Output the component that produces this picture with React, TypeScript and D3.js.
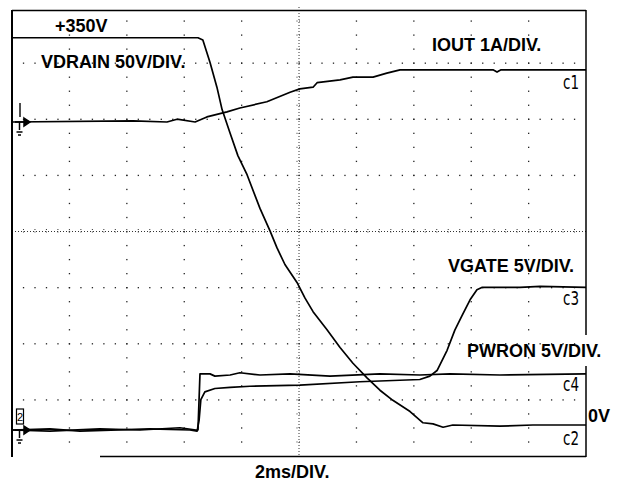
import React from "react";
import * as d3 from "d3";

// time in ms (2 ms/div), values in channel units
const vdrainT = [0, 6.48, 6.65, 6.9, 7.14, 7.32, 7.6, 7.87, 8.19, 8.64, 8.99, 9.23, 9.51, 9.93, 10.21, 10.49, 10.97, 11.43, 11.88, 12.37, 12.82, 13.27, 13.87, 14.32, 14.67, 15.02, 15.36, 17.0, 18.15, 20];
const vdrainV = [345, 345, 343, 323, 301, 281, 260, 240, 223, 193, 173, 158, 143, 127, 113, 101, 85, 69, 55, 42, 31, 22, 12, 2, 1, -2, 0, -1, 0, 0];

const ioutT = [0, 4.22, 5.4, 5.75, 6.38, 6.79, 7.49, 7.94, 8.88, 9.69, 10.03, 10.49, 10.63, 11.43, 11.88, 12.58, 13.06, 13.52, 16.76, 16.9, 17.04, 20];
const ioutA = [0, 0.02, 0, 0.05, 0, 0.09, 0.18, 0.25, 0.36, 0.53, 0.59, 0.62, 0.7, 0.75, 0.8, 0.8, 0.87, 0.93, 0.93, 0.89, 0.93, 0.93];

const vgateT = [0, 1.32, 2.37, 4.81, 6.2, 6.45, 6.52, 6.58, 6.72, 7.07, 7.6, 8.29, 10.03, 12.12, 14.21, 14.56, 14.81, 15.16, 15.43, 15.68, 15.96, 16.2, 16.37, 17.7, 18.4, 20];
const vgateV = [0, 0.1, -0.1, 0.1, 0, -0.1, 0.9, 2.7, 3.4, 3.7, 3.8, 3.9, 4.0, 4.3, 4.5, 4.8, 5.3, 7.1, 8.9, 10.2, 11.6, 12.5, 12.7, 12.7, 12.8, 12.7];

const pwronT = [0, 1.32, 3.06, 4.46, 5.85, 6.41, 6.48, 6.55, 6.9, 7.07, 7.6, 7.94, 8.64, 9.69, 11.08, 12.82, 14.21, 15.26, 17.0, 20];
const pwronV = [0, -0.1, 0.1, 0, 0.2, 0, 0, 5.0, 5.0, 4.8, 4.9, 5.1, 4.9, 5.0, 4.8, 5.0, 4.9, 5.0, 4.9, 5.0];

const channelNames = ["c1", "c2", "c3", "c4"];
const channelLabels = ["IOUT 1A/DIV.", "VDRAIN 50V/DIV.", "VGATE 5V/DIV.", "PWRON 5V/DIV."];
const timeLabel = "2ms/DIV.";
const topLabel = "+350V";
const zeroLabel = "0V";

const W = 621, H = 483;
const L = 12, R = 586, T = 7, B = 456;

export default function App() {
  const x = d3.scaleLinear().domain([0, 20]).range([L, R]);
  const ydiv = d3.scaleLinear().domain([0, 8]).range([B, T]);
  const ch = (ground: number, perDiv: number) => (v: number) => ydiv(ground + v / perDiv);
  const yDrain = ch(0.552, 50);
  const yIout = ch(5.951, 1);
  const yGate = ch(0.463, 5);

  const mk = (ts: number[], vs: number[], yf: (v: number) => number) =>
    d3.line<number>().x((_, i) => x(ts[i])).y((v) => yf(v))(vs) || "";

  const dx = (R - L) / 10;
  const dy = (B - T) / 8;
  const dots: JSX.Element[] = [];
  for (let j = 1; j < 8; j++) {
    if (j === 4) continue;
    const yy = T + j * dy;
    for (let k = 1; k < 50; k++) {
      dots.push(<rect key={`h${j}-${k}`} x={L + k * dx / 5 - 0.6} y={yy - 0.6} width={1.3} height={1.3} fill="#222" />);
    }
  }
  for (let i = 1; i < 10; i++) {
    if (i === 5) continue;
    const xx = L + i * dx;
    for (let k = 1; k < 32; k++) {
      dots.push(<rect key={`v${i}-${k}`} x={xx - 0.6} y={T + k * dy / 4 - 0.6} width={1.3} height={1.3} fill="#222" />);
    }
  }
  const cx = L + 5 * dx, cy = T + 4 * dy;
  const ticks: JSX.Element[] = [];
  for (let k = 1; k < 50; k++) {
    const xx = L + k * dx / 5;
    ticks.push(<line key={`ct${k}`} x1={xx} x2={xx} y1={cy - 2.5} y2={cy + 2.5} stroke="#333" strokeWidth={1} strokeDasharray="1 1.5" />);
  }
  for (let k = 1; k < 32; k++) {
    const yy = T + k * dy / 4;
    ticks.push(<line key={`cv${k}`} x1={cx - 2.5} x2={cx + 2.5} y1={yy} y2={yy} stroke="#333" strokeWidth={1} strokeDasharray="1 1.5" />);
  }

  const bold = { fontFamily: "'Liberation Sans', Arial, sans-serif", fontWeight: 700, fontSize: 18, fill: "#000" } as const;
  const narrow = { fontFamily: "'Liberation Sans Narrow', 'DejaVu Sans Condensed', sans-serif", fontSize: 15, fill: "#000", textAnchor: "end" } as const;

  const gnd = (gx: number, gy: number) => (
    <g stroke="#000" strokeWidth={1.5} fill="none">
      <line x1={gx} x2={gx + 9} y1={gy} y2={gy} />
      <line x1={gx + 4.5} x2={gx + 4.5} y1={gy} y2={gy + 8} />
      <line x1={gx + 1.5} x2={gx + 7.5} y1={gy + 10} y2={gy + 10} />
      <line x1={gx + 3} x2={gx + 6} y1={gy + 13} y2={gy + 13} />
      <path d={`M${gx + 9},${gy - 4} L${gx + 15},${gy} L${gx + 9},${gy + 4} Z`} fill="#000" />
    </g>
  );

  const cLabel = (i: number, by: number) => (
    <g transform={`translate(579,${by}) scale(1,1.3)`}>
      <text x={0} y={0} {...narrow}>{channelNames[i]}</text>
    </g>
  );

  return (
    <svg width={W} height={H} style={{ position: "absolute", left: 0, top: 0, background: "#fff" }}>
      <rect x={0} y={0} width={W} height={H} fill="#fff" />
      {dots}
      <line x1={cx} x2={cx} y1={T} y2={B} stroke="#333" strokeWidth={1} strokeDasharray="1 2" />
      <line x1={L} x2={R} y1={cy} y2={cy} stroke="#333" strokeWidth={1} strokeDasharray="1 2" />
      {ticks}
      <g stroke="#000" fill="none">
        <line x1={L} x2={L} y1={10} y2={B + 1} strokeWidth={2} />
        <line x1={L} x2={R} y1={10.5} y2={10.5} strokeWidth={1.5} />
        <line x1={R} x2={R} y1={10} y2={335} strokeWidth={1.5} />
        <line x1={R} x2={R} y1={366} y2={B + 1} strokeWidth={1.5} />
        <line x1={100} x2={R} y1={B + 0.5} y2={B + 0.5} strokeWidth={1.5} />
      </g>
      <g fill="none" stroke="#000" strokeWidth={1.7} strokeLinejoin="round">
        <path d={mk(vdrainT, vdrainV, yDrain)} />
        <path d={mk(ioutT, ioutA, yIout)} />
        <path d={mk(vgateT, vgateV, yGate)} />
        <path d={mk(pwronT, pwronV, yGate)} />
      </g>
      <line x1={20} x2={20} y1={103} y2={117} stroke="#000" strokeWidth={1.4} />
      {gnd(15, yIout(0))}
      <rect x={16.5} y={409} width={7} height={15} fill="none" stroke="#000" strokeWidth={1.2} />
      <text x={20} y={421} fontSize={11} textAnchor="middle" fontFamily="'Liberation Sans Narrow', sans-serif">2</text>
      {gnd(15, yGate(0))}
      <text x={55} y={32} {...bold}>{topLabel}</text>
      <text x={41} y={68} {...bold}>{channelLabels[1]}</text>
      <text x={432} y={51} {...bold}>{channelLabels[0]}</text>
      <text x={448} y={272} {...bold}>{channelLabels[2]}</text>
      <text x={467} y={357} {...bold}>{channelLabels[3]}</text>
      <text x={588} y={422} {...bold}>{zeroLabel}</text>
      <text x={255} y={478} {...bold}>{timeLabel}</text>
      {cLabel(0, 89)}
      {cLabel(1, 445)}
      {cLabel(2, 305)}
      {cLabel(3, 391)}
    </svg>
  );
}
